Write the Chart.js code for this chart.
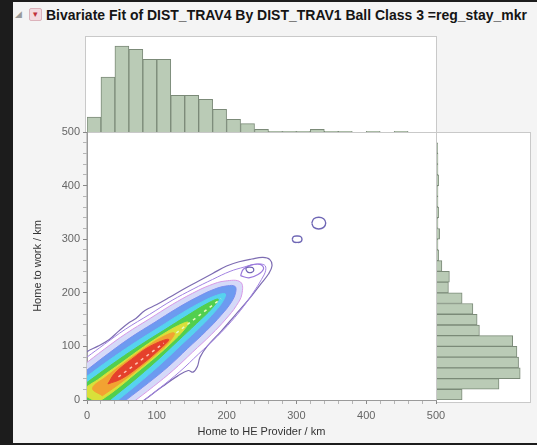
<!DOCTYPE html>
<html>
<head>
<meta charset="utf-8">
<script src="https://cdn.jsdelivr.net/npm/chart.js@4"></script>
<style>
  html, body { margin: 0; padding: 0; background: #1c1c1c; }
  body { width: 537px; height: 445px; position: relative; overflow: hidden; font-family: "Liberation Sans", Arial, sans-serif; }
  #panel { position: absolute; left: 13px; top: 2px; width: 524px; height: 441px; background: #f4f4f4; }
  .frame { position: absolute; background: #fff; border: 1px solid #c9c9c9; box-sizing: border-box; }
  canvas { position: absolute; }
  #title { position: absolute; left: 46px; top: 7px; font-weight: bold; font-size: 12px; color: #151515; white-space: nowrap; }
  #disclose { position: absolute; left: 15px; top: 9px; font-size: 9px; color: #9a9a9a; }
  #redBtn { position: absolute; left: 29px; top: 8px; width: 13px; height: 13px; background: #f3dbe0; border: 1px solid #dcb3bb; box-sizing: border-box; border-radius: 2px; color: #c0303a; font-size: 9px; line-height: 11px; text-align: center; }
</style>
</head>
<body>
<div id="panel"></div>
<div id="disclose">◢</div>
<div id="redBtn">▾</div>
<div id="title">Bivariate Fit of DIST_TRAV4 By DIST_TRAV1 Ball Class 3 =reg_stay_mkr</div>

<div class="frame" style="left:85px; top:36px; width:352px; height:97px;"></div>
<div class="frame" style="left:86px; top:132px; width:351px; height:269px;"></div>
<div class="frame" style="left:436px; top:132px; width:95px; height:271px;"></div>

<canvas id="main" width="537" height="445" style="left:0; top:0;"></canvas>
<canvas id="topHist" width="349" height="95" style="left:87px; top:37px;"></canvas>
<canvas id="sideHist" width="93" height="268" style="left:437px; top:132px;"></canvas>

<script>
// histogram bins (km), 20 km wide
const binLabels = ['0-20','20-40','40-60','60-80','80-100','100-120','120-140','140-160','160-180','180-200',
  '200-220','220-240','240-260','260-280','280-300','300-320','320-340','340-360','360-380','380-400',
  '400-420','420-440','440-460','460-480','480-500'];
// Home to HE Provider (top histogram)
const topCounts = [45, 165, 258, 248, 218, 218, 110, 110, 98, 68, 38, 25, 8, 2, 2, 2, 8, 2, 2, 0, 2, 0, 2, 0, 0];
// Home to work (side histogram), from 0 km upward
const sideCounts = [77, 190, 255, 250, 245, 232, 130, 123, 110, 77, 35, 38, 15, 5, 3, 8, 3, 5, 3, 3, 5, 3, 3, 2, 0];
const tickValues = [0, 100, 200, 300, 400, 500];

// density contours, [Home to HE Provider, Home to work] in km
const outerContour = [[25,-55],[80,-2],[108,25],[130,45],[145,55],[152,52],[158,62],[162,80],[172,100],[192,128],[212,158],[232,188],[248,215],[260,235],[265,250],[262,262],
  [252,266],[236,263],[218,258],[200,250],[180,236],[160,222],[140,208],[119,192],[100,178],[83,167],[70,152],[60,144],[45,128],[32,113],[15,100],[0,90],[-30,60],[-40,-20],[25,-55]];
const midContour = [[45,-45],[73,-10],[104,22],[133,53],[160,86],[186,118],[207,147],[224,174],[238,200],[250,225],[256,242],[254,252],
  [240,253],[225,248],[205,240],[180,225],[152,207],[122,186],[90,160],[55,132],[25,104],[0,80],[-30,50],[-60,10],[-20,-60],[45,-45]];
const hazeBand = [[2,-62],[35,-35],[63,-7],[95,25],[124,56],[151,89],[178,122],[199,151],[214,176],[222,198],[220,220],
  [198,222],[176,214],[151,199],[122,178],[89,151],[56,124],[25,95],[-7,63],[-35,35],[-62,2],[2,-62]];
const blueBand = [[-5,-55],[28,-28],[56,0],[88,32],[117,63],[144,96],[171,129],[192,158],[207,183],[213,201],[212,212],
  [201,213],[183,207],[158,192],[129,171],[96,144],[63,117],[32,88],[0,56],[-28,28],[-55,-5],[-5,-55]];
const cyanBand = [[-2,-38],[22,-22],[52,8],[81,39],[109,71],[136,104],[163,137],[184,166],[195,185],[198,198],
  [185,195],[166,184],[137,163],[104,136],[71,109],[39,81],[8,52],[-22,22],[-38,-2],[-2,-38]];
const greenBand = [[3,-23],[16,-16],[46,14],[75,45],[103,77],[130,110],[157,143],[179,171],[188,188],
  [171,179],[143,157],[110,130],[77,103],[45,75],[14,46],[-16,16],[-23,3],[3,-23]];
const yellowBand = [[15,-5],[41,19],[70,50],[99,81],[122,108],[139,131],[145,145],
  [131,139],[108,122],[81,99],[50,70],[19,41],[-5,15],[15,-5]];
const orangeBand = [[22,8],[43,27],[68,52],[97,83],[117,107],[125,125],[107,117],[83,97],[52,68],[27,43],[8,22],[22,8]];
const redBand = [[30,30],[50,40],[76,64],[100,90],[117,113],[90,100],[64,76],[40,50],[30,30]];
const lobeLoop = [[220,232],[232,228],[245,234],[253,245],[248,253],[236,252],[224,244],[220,232]];
const lobeCircle = [[228,242],[231,238],[236,238],[239,242],[237,247],[232,248],[228,246],[228,242]];
const farCircle1 = [[294,300],[296,305],[301,306],[306,305],[308,300],[306,295],[301,294],[296,295],[294,300]];
const farCircle2 = [[322,330],[325,338],[332,341],[339,338],[342,330],[339,322],[332,319],[325,322],[322,330]];
const ridgeCore = [[45,43],[110,106]];
const ridgeUpper = [[128,125],[192,189]];

const pts = arr => arr.map(p => ({x: p[0], y: p[1]}));

function shape(data, fillColor, lineColor, width, order) {
    return {
        data: pts(data),
        showLine: true,
        fill: fillColor ? 'shape' : false,
        backgroundColor: fillColor || 'transparent',
        borderColor: lineColor,
        borderWidth: width,
        tension: 0.4,
        pointRadius: 0,
        order: order
    };
}

const contourSets = [
    shape(outerContour, null, '#7d6cb2', 1.2, 20),
    shape(midContour, null, '#a283e2', 1, 19),
    shape(hazeBand, '#d5d9f8', '#d89ae6', 1, 18),
    shape(blueBand, '#6c9bf0', '#7a8ff0', 1, 17),
    shape(cyanBand, '#56d3ef', '#56d3ef', 1, 16),
    shape(greenBand, '#52cf4e', '#52cf4e', 1, 15),
    shape(yellowBand, '#d9e03a', '#d9e03a', 1, 14),
    shape(orangeBand, '#f2a232', '#f2a232', 1, 13),
    shape(redBand, '#e5402c', '#e5402c', 1, 12),
    shape(lobeLoop, null, '#9a78dc', 1.2, 11),
    shape(lobeCircle, null, '#6b5fb0', 1.2, 10),
    shape(farCircle1, null, '#6f67b5', 1.4, 9),
    shape(farCircle2, null, '#6f67b5', 1.4, 8),
    Object.assign(shape(ridgeCore, null, '#ffc4b4', 1.5, 7), {borderDash: [3, 4], tension: 0}),
    Object.assign(shape(ridgeUpper, null, '#e6fbc0', 1.5, 6), {borderDash: [3, 4], tension: 0})
];

const tickFont = {family: 'Liberation Sans', size: 11};

function axis(isX) {
    return {
        type: 'linear',
        min: 0,
        max: 500,
        afterFit: s => { if (isX) s.height = 45; else s.width = 60; },
        ticks: {
            stepSize: 20,
            autoSkip: false,
            maxRotation: 0,
            padding: isX ? 5 : 3,
            color: '#666',
            font: tickFont,
            callback: v => tickValues.includes(v) ? v : ''
        },
        grid: {
            drawOnChartArea: false,
            tickLength: 4,
            tickColor: ctx => tickValues.includes(ctx.tick.value) ? '#888' : '#b5b5b5'
        },
        border: {color: '#9a9a9a'},
        title: {
            display: true,
            text: isX ? 'Home to HE Provider / km' : 'Home to work / km',
            color: '#333',
            font: tickFont,
            padding: isX ? {top: 0, bottom: 6} : {top: 4, bottom: 0}
        }
    };
}

new Chart(document.getElementById('main'), {
    type: 'scatter',
    data: {datasets: contourSets},
    options: {
        responsive: false,
        animation: false,
        layout: {padding: {left: 27, right: 101, top: 132, bottom: 0}},
        plugins: {legend: {display: false}, tooltip: {enabled: false}},
        scales: {x: axis(true), y: axis(false)}
    }
});

const barStyle = {
    backgroundColor: '#bacbb6',
    borderColor: '#7b8a78',
    borderWidth: 1,
    barPercentage: 1,
    categoryPercentage: 1
};

new Chart(document.getElementById('topHist'), {
    type: 'bar',
    data: {labels: binLabels, datasets: [Object.assign({data: topCounts}, barStyle)]},
    options: {
        responsive: false,
        animation: false,
        layout: {padding: 0},
        plugins: {legend: {display: false}, tooltip: {enabled: false}},
        scales: {x: {display: false}, y: {display: false, min: 0, max: 285}}
    }
});

new Chart(document.getElementById('sideHist'), {
    type: 'bar',
    data: {
        labels: binLabels.slice().reverse(),
        datasets: [Object.assign({data: sideCounts.slice().reverse()}, barStyle)]
    },
    options: {
        indexAxis: 'y',
        responsive: false,
        animation: false,
        layout: {padding: 0},
        plugins: {legend: {display: false}, tooltip: {enabled: false}},
        scales: {y: {display: false}, x: {display: false, min: 0, max: 285}}
    }
});

// stretch the header to the width it has in the JMP report
const title = document.getElementById('title');
const w = title.getBoundingClientRect().width;
title.style.fontSize = (12 * 481 / w).toFixed(2) + 'px';
</script>
</body>
</html>
